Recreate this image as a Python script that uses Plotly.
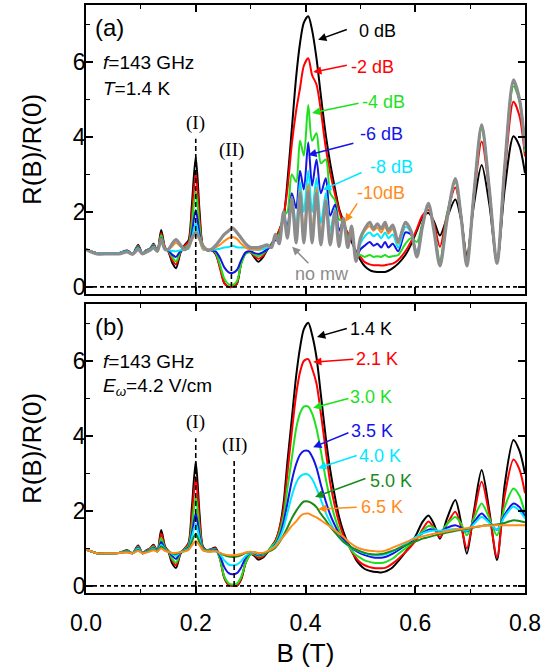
import plotly.graph_objects as go
from plotly.subplots import make_subplots

# ---------------- data ----------------
B = [0.000, 0.020, 0.040, 0.060, 0.075, 0.085, 0.095, 0.103, 0.110, 0.117, 0.123, 0.130,
     0.137, 0.144, 0.150, 0.157, 0.164, 0.172, 0.180, 0.187, 0.193, 0.200, 0.207, 0.213,
     0.220, 0.228, 0.236, 0.244, 0.252, 0.260, 0.267, 0.275, 0.283, 0.291, 0.300, 0.307,
     0.314, 0.322, 0.330, 0.338, 0.345, 0.352, 0.360, 0.367, 0.375, 0.383, 0.390, 0.397,
     0.405, 0.412, 0.420, 0.428, 0.437, 0.445, 0.454, 0.461, 0.469, 0.477, 0.484, 0.492,
     0.500, 0.508, 0.517, 0.524, 0.531, 0.538, 0.545, 0.551, 0.559, 0.569, 0.582, 0.592,
     0.603, 0.613, 0.624, 0.634, 0.645, 0.658, 0.673, 0.684, 0.694, 0.707, 0.721, 0.735,
     0.749, 0.763, 0.779, 0.790, 0.800]

# panel (a): power dependence, T = 1.4 K
a_0dB = [1.00, 0.90, 0.90, 0.90, 0.97, 0.88, 1.12, 0.88, 0.98, 1.02, 1.15, 0.95,
         1.52, 1.05, 0.95, 0.65, 0.50, 0.90, 1.12, 1.25, 2.20, 3.47, 2.00, 1.10,
         0.98, 0.98, 0.88, 0.55, 0.10, 0.00, 0.00, 0.08, 0.65, 0.90, 0.92, 0.78,
         0.67, 0.78, 0.98, 1.15, 1.30, 1.50, 1.85, 2.80, 4.20, 5.60, 6.50, 7.05,
         7.22, 6.85, 6.10, 5.10, 4.05, 3.30, 2.60, 2.10, 1.75, 1.40, 1.20, 0.95,
         0.72, 0.55, 0.45, 0.41, 0.40, 0.40, 0.40, 0.43, 0.50, 0.62, 0.85, 1.12,
         1.50, 1.85, 1.97, 1.75, 1.37, 1.85, 2.33, 1.75, 0.82, 2.20, 3.25, 2.20,
         0.65, 2.60, 4.02, 3.75, 3.03]
a_m2dB = [1.00, 0.90, 0.90, 0.90, 0.96, 0.88, 1.10, 0.88, 0.97, 1.02, 1.13, 0.95,
          1.43, 1.03, 0.95, 0.72, 0.60, 0.92, 1.10, 1.20, 1.95, 3.03, 1.80, 1.08,
          0.98, 0.98, 0.90, 0.50, 0.10, 0.00, 0.00, 0.10, 0.65, 0.90, 0.93, 0.82,
          0.75, 0.82, 1.00, 1.12, 1.30, 1.50, 1.90, 2.60, 3.80, 4.70, 5.30, 5.90,
          6.10, 5.65, 5.40, 4.70, 3.70, 3.05, 2.45, 2.05, 1.65, 1.45, 1.30, 0.90,
          0.80, 0.66, 0.60, 0.58, 0.58, 0.57, 0.58, 0.60, 0.62, 0.72, 0.95, 1.20,
          1.55, 1.90, 2.05, 1.70, 1.07, 1.95, 2.65, 1.85, 0.72, 2.40, 3.88, 2.55,
          0.63, 3.00, 4.94, 4.55, 3.48]
a_m4dB = [1.00, 0.90, 0.90, 0.90, 0.96, 0.88, 1.08, 0.88, 0.97, 1.02, 1.12, 0.95,
          1.38, 1.02, 0.96, 0.80, 0.68, 0.93, 1.05, 1.12, 1.70, 2.54, 1.60, 1.05,
          0.98, 0.98, 0.92, 0.60, 0.22, 0.07, 0.05, 0.15, 0.62, 0.88, 0.93, 0.86,
          0.82, 0.88, 1.00, 1.12, 1.30, 1.40, 1.90, 2.00, 3.00, 2.80, 3.90, 3.50,
          4.85, 3.90, 4.10, 3.30, 3.40, 2.50, 2.30, 1.80, 1.75, 1.35, 1.35, 0.85,
          0.85, 0.80, 0.85, 0.80, 0.82, 0.80, 0.85, 0.80, 0.82, 0.85, 1.15, 1.30,
          1.20, 1.70, 2.15, 1.60, 0.70, 1.95, 2.80, 1.85, 0.62, 2.50, 4.20, 2.60,
          0.63, 3.20, 5.35, 4.95, 3.60]
a_m6dB = [1.00, 0.90, 0.90, 0.90, 0.96, 0.88, 1.06, 0.88, 0.96, 1.01, 1.10, 0.95,
          1.30, 1.01, 0.97, 0.86, 0.80, 0.95, 1.02, 1.05, 1.45, 2.05, 1.40, 1.02,
          0.98, 0.98, 0.95, 0.78, 0.52, 0.39, 0.37, 0.45, 0.72, 0.92, 0.95, 0.90,
          0.88, 0.92, 1.00, 1.10, 1.25, 1.30, 1.85, 1.65, 2.50, 2.10, 3.10, 2.60,
          3.85, 2.70, 3.40, 2.50, 2.90, 1.90, 2.20, 1.50, 1.75, 1.20, 1.45, 0.78,
          1.00, 1.10, 1.20, 1.10, 1.15, 1.05, 1.20, 1.05, 1.15, 0.95, 1.45, 1.40,
          0.90, 1.65, 2.20, 1.55, 0.58, 1.85, 2.85, 1.85, 0.60, 2.50, 4.30, 2.60,
          0.63, 3.20, 5.45, 5.00, 3.70]
a_m8dB = [1.00, 0.90, 0.90, 0.90, 0.95, 0.88, 1.04, 0.88, 0.95, 1.00, 1.08, 0.95,
          1.22, 1.00, 0.98, 0.96, 0.95, 0.98, 1.00, 1.02, 1.30, 1.70, 1.25, 1.00,
          0.98, 0.98, 1.00, 1.02, 1.05, 1.06, 1.10, 1.06, 1.05, 1.05, 1.00, 1.00,
          0.98, 1.00, 1.05, 1.08, 1.30, 1.20, 1.95, 1.45, 2.40, 1.60, 2.80, 2.00,
          3.10, 2.00, 2.90, 1.70, 2.50, 1.50, 2.10, 1.20, 1.80, 1.10, 1.55, 0.72,
          1.15, 1.35, 1.45, 1.35, 1.42, 1.30, 1.45, 1.30, 1.40, 1.05, 1.60, 1.45,
          0.85, 1.62, 2.20, 1.52, 0.56, 1.82, 2.85, 1.82, 0.60, 2.50, 4.32, 2.60,
          0.63, 3.20, 5.50, 5.00, 3.72]
a_m10dB = [1.00, 0.88, 0.88, 0.88, 0.93, 0.87, 1.00, 0.88, 0.93, 0.98, 1.05, 0.95,
           1.22, 1.00, 1.00, 1.08, 1.18, 1.08, 1.00, 1.05, 1.25, 1.44, 1.25, 1.02,
           0.98, 1.00, 1.05, 1.12, 1.22, 1.30, 1.33, 1.28, 1.15, 1.05, 1.00, 1.00,
           1.00, 1.05, 1.10, 1.05, 1.35, 1.15, 2.00, 1.35, 2.40, 1.30, 2.60, 1.40,
           2.75, 1.40, 2.65, 1.30, 2.35, 1.25, 2.05, 1.12, 1.85, 1.08, 1.62, 0.68,
           1.25, 1.50, 1.62, 1.50, 1.58, 1.45, 1.62, 1.42, 1.55, 1.15, 1.70, 1.50,
           0.80, 1.60, 2.20, 1.50, 0.55, 1.80, 2.85, 1.80, 0.60, 2.50, 4.32, 2.60,
           0.63, 3.20, 5.50, 5.00, 3.74]
a_nomw = [1.00, 0.88, 0.88, 0.88, 0.93, 0.87, 1.00, 0.88, 0.93, 0.98, 1.05, 0.95,
          1.27, 1.00, 1.00, 1.15, 1.26, 1.12, 0.99, 1.10, 1.30, 1.45, 1.30, 1.10,
          1.00, 1.00, 1.10, 1.25, 1.40, 1.50, 1.57, 1.45, 1.30, 1.15, 1.05, 1.05,
          1.05, 1.08, 1.12, 1.05, 1.40, 1.15, 2.00, 1.30, 2.37, 1.17, 2.50, 1.17,
          2.54, 1.17, 2.50, 1.12, 2.28, 1.12, 2.01, 1.08, 1.83, 1.05, 1.62, 0.68,
          1.30, 1.55, 1.72, 1.55, 1.68, 1.55, 1.72, 1.50, 1.65, 1.20, 1.72, 1.50,
          0.80, 1.60, 2.23, 1.50, 0.56, 1.80, 2.89, 1.80, 0.56, 2.50, 4.32, 2.60,
          0.63, 3.20, 5.52, 5.00, 3.74]

# panel (b): temperature dependence, E = 4.2 V/cm
b_14K = [0.97, 0.87, 0.87, 0.88, 0.95, 0.87, 1.08, 0.87, 0.95, 1.00, 1.10, 0.93,
         1.49, 1.05, 0.92, 0.60, 0.48, 0.85, 1.00, 1.15, 2.10, 3.31, 1.90, 1.05,
         0.95, 0.98, 1.02, 0.75, 0.22, 0.02, 0.00, 0.00, 0.18, 0.62, 0.85, 0.80,
         0.70, 0.75, 0.88, 1.05, 1.20, 1.50, 2.20, 3.30, 4.45, 5.60, 6.35, 6.85,
         7.02, 6.70, 6.10, 5.10, 3.95, 3.10, 2.35, 1.85, 1.45, 1.15, 0.95, 0.70,
         0.55, 0.45, 0.40, 0.38, 0.37, 0.36, 0.38, 0.42, 0.50, 0.66, 0.90, 1.10,
         1.40, 1.70, 1.88, 1.65, 1.26, 1.80, 2.29, 1.65, 0.86, 2.00, 3.09, 2.00,
         0.69, 2.70, 3.89, 3.60, 2.99]
b_21K = [0.97, 0.87, 0.87, 0.88, 0.94, 0.87, 1.06, 0.87, 0.94, 1.00, 1.08, 0.93,
         1.40, 1.03, 0.93, 0.68, 0.55, 0.87, 1.00, 1.12, 1.85, 2.91, 1.70, 1.03,
         0.95, 0.97, 1.00, 0.72, 0.22, 0.03, 0.00, 0.01, 0.20, 0.62, 0.85, 0.82,
         0.75, 0.78, 0.90, 1.05, 1.20, 1.50, 2.05, 3.00, 4.10, 5.10, 5.70, 6.00,
         6.05, 5.80, 5.40, 4.60, 3.60, 2.75, 2.10, 1.70, 1.35, 1.12, 0.92, 0.75,
         0.62, 0.55, 0.50, 0.48, 0.47, 0.47, 0.48, 0.52, 0.60, 0.72, 0.90, 1.05,
         1.25, 1.50, 1.72, 1.55, 1.30, 1.65, 1.98, 1.55, 1.00, 1.90, 2.78, 1.90,
         0.77, 2.40, 3.37, 3.10, 2.47]
b_30K = [0.97, 0.87, 0.87, 0.88, 0.93, 0.87, 1.04, 0.87, 0.93, 0.98, 1.05, 0.92,
         1.28, 1.00, 0.93, 0.72, 0.62, 0.88, 0.98, 1.08, 1.60, 2.38, 1.50, 1.00,
         0.95, 0.96, 0.98, 0.72, 0.25, 0.07, 0.04, 0.06, 0.25, 0.62, 0.85, 0.85,
         0.80, 0.82, 0.90, 1.05, 1.15, 1.40, 1.85, 2.60, 3.40, 4.20, 4.60, 4.78,
         4.78, 4.60, 4.20, 3.60, 2.85, 2.30, 1.80, 1.50, 1.25, 1.10, 0.95, 0.82,
         0.75, 0.68, 0.64, 0.62, 0.61, 0.61, 0.63, 0.67, 0.73, 0.85, 1.00, 1.12,
         1.30, 1.45, 1.60, 1.55, 1.42, 1.65, 1.84, 1.65, 1.35, 1.80, 2.20, 1.80,
         1.35, 2.10, 2.60, 2.40, 1.93]
b_35K = [0.97, 0.87, 0.87, 0.88, 0.92, 0.87, 1.02, 0.87, 0.92, 0.96, 1.02, 0.92,
         1.17, 0.98, 0.93, 0.80, 0.72, 0.89, 0.96, 1.03, 1.40, 1.93, 1.35, 0.98,
         0.94, 0.95, 0.96, 0.80, 0.50, 0.34, 0.31, 0.34, 0.50, 0.75, 0.88, 0.87,
         0.82, 0.84, 0.90, 1.00, 1.10, 1.30, 1.70, 2.20, 2.80, 3.25, 3.50, 3.60,
         3.60, 3.45, 3.15, 2.70, 2.25, 1.90, 1.60, 1.40, 1.25, 1.12, 1.02, 0.93,
         0.87, 0.82, 0.78, 0.76, 0.75, 0.75, 0.77, 0.80, 0.86, 0.95, 1.08, 1.18,
         1.30, 1.40, 1.50, 1.50, 1.45, 1.55, 1.62, 1.55, 1.45, 1.70, 1.93, 1.70,
         1.50, 1.90, 2.20, 2.10, 1.85]
b_40K = [0.97, 0.87, 0.87, 0.88, 0.91, 0.87, 1.00, 0.87, 0.91, 0.95, 1.00, 0.92,
         1.10, 0.97, 0.93, 0.85, 0.80, 0.90, 0.95, 1.00, 1.30, 1.66, 1.25, 0.97,
         0.93, 0.94, 0.94, 0.85, 0.68, 0.57, 0.55, 0.57, 0.66, 0.80, 0.88, 0.88,
         0.84, 0.85, 0.90, 1.00, 1.08, 1.25, 1.55, 1.95, 2.40, 2.75, 2.92, 2.98,
         2.97, 2.85, 2.60, 2.30, 1.95, 1.70, 1.45, 1.30, 1.18, 1.08, 1.02, 0.96,
         0.91, 0.87, 0.84, 0.83, 0.82, 0.82, 0.84, 0.87, 0.92, 1.00, 1.12, 1.22,
         1.32, 1.40, 1.45, 1.48, 1.47, 1.50, 1.52, 1.50, 1.47, 1.65, 1.84, 1.68,
         1.50, 1.85, 2.12, 2.00, 1.80]
b_50K = [0.97, 0.87, 0.87, 0.88, 0.90, 0.87, 0.96, 0.87, 0.90, 0.93, 0.97, 0.92,
         1.05, 0.95, 0.92, 0.87, 0.85, 0.90, 0.93, 0.98, 1.18, 1.39, 1.15, 0.96,
         0.92, 0.92, 0.92, 0.88, 0.82, 0.78, 0.77, 0.78, 0.82, 0.88, 0.90, 0.90,
         0.86, 0.86, 0.90, 0.95, 1.02, 1.15, 1.35, 1.55, 1.80, 2.00, 2.15, 2.25,
         2.25, 2.20, 2.10, 1.92, 1.75, 1.58, 1.42, 1.30, 1.18, 1.10, 1.03, 0.97,
         0.92, 0.88, 0.85, 0.84, 0.84, 0.85, 0.87, 0.90, 0.94, 1.00, 1.08, 1.14,
         1.20, 1.26, 1.30, 1.34, 1.38, 1.42, 1.47, 1.50, 1.52, 1.56, 1.60, 1.62,
         1.64, 1.68, 1.75, 1.73, 1.70]
b_65K = [0.97, 0.87, 0.87, 0.88, 0.89, 0.87, 0.93, 0.87, 0.89, 0.92, 0.95, 0.92,
         1.00, 0.93, 0.91, 0.88, 0.88, 0.90, 0.92, 0.96, 1.08, 1.20, 1.08, 0.95,
         0.92, 0.92, 0.92, 0.88, 0.84, 0.82, 0.82, 0.83, 0.85, 0.89, 0.91, 0.90,
         0.88, 0.88, 0.92, 0.98, 1.05, 1.18, 1.32, 1.45, 1.60, 1.72, 1.85, 1.92,
         1.93, 1.88, 1.83, 1.75, 1.66, 1.58, 1.48, 1.40, 1.31, 1.20, 1.12, 1.04,
         0.99, 0.96, 0.94, 0.93, 0.92, 0.92, 0.94, 0.97, 1.02, 1.08, 1.16, 1.22,
         1.28, 1.32, 1.36, 1.39, 1.42, 1.46, 1.50, 1.52, 1.54, 1.57, 1.60, 1.61,
         1.62, 1.62, 1.62, 1.62, 1.62]

labels_a = ["0 dB", "-2 dB", "-4 dB", "-6 dB", "-8 dB", "-10dB", "no mw"]
labels_b = ["1.4 K", "2.1 K", "3.0 K", "3.5 K", "4.0 K", "5.0 K", "6.5 K"]

# ---------------- styling ----------------
FONT = "Liberation Sans, Arial, sans-serif"
SERIF = "Liberation Serif, Times New Roman, serif"
cols_a = ["#000000", "#ff0000", "#1ee11e", "#1414e6", "#00e8ff", "#ff8c1a", "#8c8c8c"]
cols_b = ["#000000", "#ff0000", "#1ee11e", "#1414e6", "#00e8ff", "#1a8a1a", "#ff8c1a"]
widths_a = [2, 2, 2, 2, 2, 2, 3.2]
widths_b = [2, 2, 2, 2, 2, 2, 2]

fig = make_subplots(rows=2, cols=1)

series_a = [a_0dB, a_m2dB, a_m4dB, a_m6dB, a_m8dB, a_m10dB, a_nomw]
series_b = [b_14K, b_21K, b_30K, b_35K, b_40K, b_50K, b_65K]

for ys, c, w, n in zip(series_a, cols_a, widths_a, labels_a):
    fig.add_trace(go.Scatter(x=B, y=ys, mode="lines", name=n,
                             line=dict(color=c, width=w, shape="spline", smoothing=0.8)),
                  row=1, col=1)
for ys, c, w, n in zip(series_b, cols_b, widths_b, labels_b):
    fig.add_trace(go.Scatter(x=B, y=ys, mode="lines", name=n,
                             line=dict(color=c, width=w, shape="spline", smoothing=0.8)),
                  row=2, col=1)

# label/arrow placement (data coords): text x,y ; arrow tail ; arrow tip
lab_a = [(0.531, 6.83, 0.478, 6.88, 0.423, 6.59),
         (0.522, 5.87, 0.478, 5.92, 0.414, 5.73),
         (0.543, 4.93, 0.4995, 4.91, 0.412, 4.64),
         (0.538, 4.08, 0.490, 3.84, 0.405, 3.52),
         (0.556, 3.20, 0.505, 3.07, 0.432, 2.59),
         (0.538, 2.51, 0.496, 2.27, 0.472, 1.73),
         (0.430, 0.35, 0.408, 0.59, 0.3756, 1.07)]
lab_b = [(0.520, 6.85, 0.478, 6.88, 0.421, 6.64),
         (0.531, 6.05, 0.490, 6.05, 0.414, 5.97),
         (0.520, 5.04, 0.481, 5.01, 0.414, 4.75),
         (0.521, 4.13, 0.481, 4.10, 0.414, 3.70),
         (0.536, 3.46, 0.496, 3.49, 0.423, 3.14),
         (0.556, 2.80, 0.512, 2.88, 0.4175, 2.37),
         (0.540, 2.10, 0.496, 2.10, 0.423, 2.05)]

ann = []
def add_labels(labs, texts, colors, xr, yr):
    for (tx, ty, ax_, ay_, hx, hy), t, c in zip(labs, texts, colors):
        ann.append(dict(x=hx, y=hy, ax=ax_, ay=ay_, xref=xr, yref=yr, axref=xr, ayref=yr,
                        text="", showarrow=True, arrowhead=2, arrowsize=1.1,
                        arrowwidth=1.5, arrowcolor=c, standoff=0, startstandoff=0))
        ann.append(dict(x=tx, y=ty, xref=xr, yref=yr, text=t, showarrow=False,
                        font=dict(family=FONT, size=18, color=c)))

add_labels(lab_a, labels_a, cols_a, "x", "y")
add_labels(lab_b, labels_b, cols_b, "x2", "y2")

for xr, yr, tag, y2line in [("x", "y", "(a)", "<i>T</i>=1.4 K"),
                            ("x2", "y2", "(b)", "<i>E</i><sub><i>ω</i></sub>=4.2 V/cm")]:
    ann.append(dict(x=0.012, y=6.93, xref=xr, yref=yr, text=tag, showarrow=False,
                    xanchor="left", font=dict(family=FONT, size=24, color="black")))
    ann.append(dict(x=0.027, y=5.98, xref=xr, yref=yr, text="<i>f</i>=143 GHz",
                    showarrow=False, xanchor="left",
                    font=dict(family=FONT, size=19, color="black")))
    ann.append(dict(x=0.027, y=5.30, xref=xr, yref=yr, text=y2line,
                    showarrow=False, xanchor="left",
                    font=dict(family=FONT, size=19, color="black")))

# (I)/(II) markers: x, dashed-line top, label y
marks_a = [(0.200, 3.95, 4.37, "(I)"), (0.265, 3.40, 3.65, "(II)")]
marks_b = [(0.200, 3.94, 4.37, "(I)"), (0.270, 3.38, 3.76, "(II)")]
shapes = []
for marks, xr, yr in [(marks_a, "x", "y"), (marks_b, "x2", "y2")]:
    shapes.append(dict(type="line", xref=xr, yref=yr, x0=0, x1=0.8, y0=0, y1=0,
                       line=dict(color="black", width=1.6, dash="4px,3px")))
    for mx, top, ly, t in marks:
        shapes.append(dict(type="line", xref=xr, yref=yr, x0=mx, x1=mx, y0=0, y1=top,
                           line=dict(color="black", width=1.6, dash="5px,3px")))
        ann.append(dict(x=mx, y=ly, xref=xr, yref=yr, text=t, showarrow=False,
                        font=dict(family=SERIF, size=19, color="black")))

axis_common = dict(showline=True, linecolor="black", linewidth=1.8, mirror="allticks",
                   ticks="inside", ticklen=7, tickwidth=1.6, tickcolor="black",
                   showgrid=False, zeroline=False, automargin=False,
                   tickfont=dict(family=FONT, size=23, color="black"))
xcommon = dict(axis_common, range=[0, 0.8], tick0=0, dtick=0.2, tickformat=".1f",
               minor=dict(ticks="inside", ticklen=4, tickwidth=1.4, dtick=0.1,
                          tick0=0, tickcolor="black", showgrid=False))
ycommon = dict(axis_common, range=[-0.19, 7.52], tick0=0, dtick=2,
               ticklabelstandoff=-6,
               minor=dict(ticks="inside", ticklen=4, tickwidth=1.4, dtick=1,
                          tick0=0, tickcolor="black", showgrid=False),
               title=dict(text="R(B)/R(0)", font=dict(family=FONT, size=26, color="black"),
                          standoff=24))

fig.update_layout(
    width=541, height=672,
    margin=dict(l=86, r=16, t=5, b=79, autoexpand=False),
    paper_bgcolor="white", plot_bgcolor="white",
    showlegend=False,
    font=dict(family=FONT, color="black"),
    xaxis=dict(xcommon, domain=[0, 1], showticklabels=False, anchor="y"),
    xaxis2=dict(xcommon, domain=[0, 1], anchor="y2", ticklabelstandoff=8,
                title=dict(text="B (T)", font=dict(family=FONT, size=26, color="black"),
                           standoff=9)),
    yaxis=dict(ycommon, domain=[0.5085, 1.0], anchor="x"),
    yaxis2=dict(ycommon, domain=[0.0, 0.4915], anchor="x2"),
    annotations=ann,
    shapes=shapes,
)

fig.write_html("out.html", config={"displayModeBar": False},
               post_script="document.body.style.margin='0';document.body.style.padding='0';")
